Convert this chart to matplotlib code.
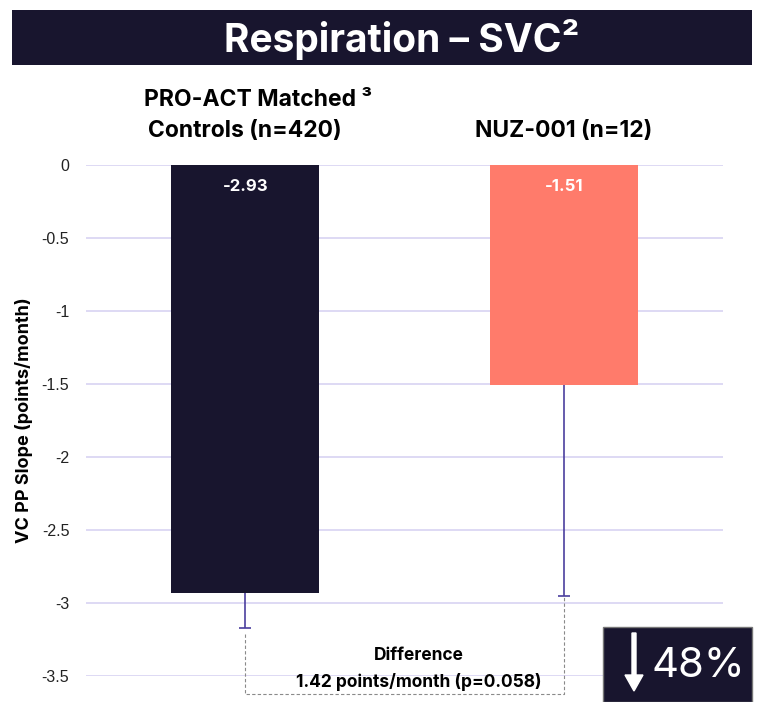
import matplotlib
matplotlib.use("Agg")
import matplotlib.pyplot as plt
from matplotlib.patches import Rectangle, FancyArrow

plt.rcParams["font.family"] = ["Inter", "DejaVu Sans"]

# data
slopes = [-2.93, -1.51]
lower_err = [0.24, 1.44]
value_labels = ["-2.93", "-1.51"]
group_top = ["PRO-ACT Matched ³", ""]
group_bottom = ["Controls (n=420)", "NUZ-001 (n=12)"]
yticks = [0, -0.5, -1, -1.5, -2, -2.5, -3, -3.5]
ytick_labels = ["0", "-0.5", "-1", "-1.5", "-2", "-2.5", "-3", "-3.5"]
reduction = "48%"

NAVY = "#18152e"
SALMON = "#ff7b6b"
ERR = "#4b3f9e"
GRID = "#d8d3f2"

W, H = 767, 702
fig = plt.figure(figsize=(W / 100, H / 100), dpi=100)
fig.patch.set_facecolor("white")

# title banner
fig.patches.append(Rectangle((12 / W, 1 - 65 / H), 740 / W, 55 / H,
                             transform=fig.transFigure, facecolor=NAVY,
                             edgecolor="none"))
fig.text(402 / W, 1 - 39 / H, "Respiration – SVC²", color="white",
         fontsize=28, fontweight="bold", ha="center", va="center")

ax = fig.add_axes([86 / W, 1 - 676 / H, 637 / W, 511 / H])
x = [0, 1]
ax.bar(x, slopes, width=0.465, color=[NAVY, SALMON], zorder=2)

# lower-only error bars
ends = [s - e for s, e in zip(slopes, lower_err)]
ax.vlines(x, slopes, ends, color=ERR, linewidth=1.2, zorder=3)
ax.plot(x, ends, linestyle="none", marker="_", markersize=9,
        markeredgewidth=1.2, color=ERR, zorder=3)

for xi, lab in zip(x, value_labels):
    ax.text(xi, -0.15, lab, color="white", fontsize=12, fontweight="bold",
            ha="center", va="center", zorder=4)

ax.set_xlim(-0.5, 1.5)
ax.set_ylim(-3.5, 0)
ax.set_yticks(yticks)
ax.set_yticklabels(ytick_labels, fontsize=11.5, color="#222222",
                   family="Liberation Sans")
ax.set_xticks([])
ax.tick_params(axis="y", length=0, pad=12)
ax.grid(axis="y", color=GRID, linewidth=1.2, zorder=0)
for s in ax.spines.values():
    s.set_visible(False)
ax.set_ylabel("VC PP Slope (points/month)", fontsize=13, fontweight="bold",
              labelpad=6)

# group labels above the bars
for xi, top, bot in zip(x, group_top, group_bottom):
    if top:
        ax.text(xi + 0.04, 0.445, top, fontsize=16.5, fontweight="bold",
                ha="center", va="center", clip_on=False)
    ax.text(xi, 0.23, bot, fontsize=16.5, fontweight="bold",
            ha="center", va="center", clip_on=False)

# dashed difference bracket
bottom = -3.62
ax.plot([x[0], x[0], x[1], x[1]], [ends[0] - 0.04, bottom, bottom, ends[1]],
        color="#8a8a8a", linewidth=0.8, linestyle=(0, (3, 2)),
        clip_on=False, zorder=3)
ax.text(0.545, -3.36, "Difference", fontsize=12.5, fontweight="bold",
        ha="center", va="center")
ax.text(0.545, -3.54, "1.42 points/month (p=0.058)", fontsize=12.5,
        fontweight="bold", ha="center", va="center", clip_on=False)

# 48% box
fig.patches.append(Rectangle((603 / W, 1 - 702 / H), 149 / W, 75 / H,
                             transform=fig.transFigure, facecolor=NAVY,
                             edgecolor="#777777", linewidth=1.0, zorder=5))
fig.patches.append(FancyArrow(634 / W, 1 - 633 / H, 0, -58 / H, width=4 / W,
                              head_width=18 / W, head_length=16 / H,
                              length_includes_head=True,
                              transform=fig.transFigure, color="white",
                              zorder=6))
fig.text(698 / W, 1 - 666 / H, reduction, color="white", fontsize=30,
         fontweight="normal", ha="center", va="center", zorder=7)

fig.savefig("out.png", dpi=100)
